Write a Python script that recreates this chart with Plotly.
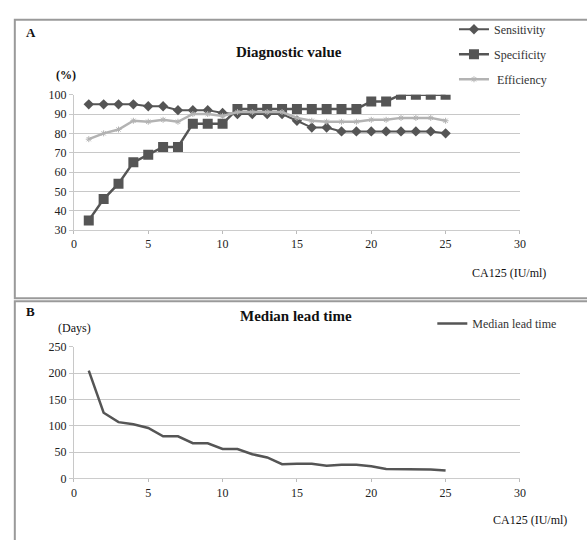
import plotly.graph_objects as go

# ---- data ----
ca125 = list(range(1, 26))
sensitivity = [95, 95, 95, 95, 94, 94, 92, 92, 92, 90.5, 90, 90, 90, 90, 86.5, 83, 83, 81, 81, 81, 81, 81, 81, 81, 80]
specificity = [35, 46, 54, 65, 69, 73, 73, 85, 85, 85, 92.6, 92.6, 92.6, 92.6, 92.6, 92.6, 92.6, 92.6, 92.6, 96.5, 96.5, 100, 100, 100, 100]
efficiency = [77, 80, 82, 86.5, 86, 87, 86, 90, 90, 89, 91, 91, 91, 91, 88, 86.5, 86, 86, 86, 87, 87, 88, 88, 88, 86.5]
lead_time = [205, 125, 107, 103, 96, 80, 80, 67, 67, 56, 56, 46, 40, 27, 28, 28, 24, 26, 26, 23, 18, 18, 18, 17, 15]

x_ticks = [0, 5, 10, 15, 20, 25, 30]
yA_ticks = [30, 40, 50, 60, 70, 80, 90, 100]
yB_ticks = [0, 50, 100, 150, 200, 250]

W, H = 587, 540
FONT = "Liberation Serif"

def px(v):
    return v / W

def py(v):
    return 1 - v / H

fig = go.Figure()

fig.add_trace(go.Scatter(x=ca125, y=sensitivity, name="Sensitivity", mode="lines+markers",
                         line=dict(color="#555555", width=2),
                         marker=dict(symbol="diamond", size=8, color="#555555"),
                         xaxis="x", yaxis="y", legend="legend", legendgroup="a"))
fig.add_trace(go.Scatter(x=ca125, y=specificity, name="Specificity", mode="lines+markers",
                         line=dict(color="#555555", width=2.5),
                         marker=dict(symbol="square", size=10, color="#555555"),
                         xaxis="x", yaxis="y", legend="legend", legendgroup="b"))
fig.add_trace(go.Scatter(x=ca125, y=efficiency, name=" Efficiency", mode="lines+markers",
                         line=dict(color="#b3b3b3", width=2.5),
                         marker=dict(symbol="asterisk-open", size=5, line=dict(color="#b3b3b3", width=1)),
                         xaxis="x", yaxis="y", legend="legend", legendgroup="c"))
fig.add_trace(go.Scatter(x=ca125, y=lead_time, name="Median lead time", mode="lines",
                         line=dict(color="#555555", width=2.5),
                         xaxis="x2", yaxis="y2", legend="legend2"))

axis_font = dict(family=FONT, size=12, color="#222222")
common_x = dict(range=[0, 30], tickvals=x_ticks, showgrid=False, zeroline=False,
                ticks="outside", ticklen=3, tickcolor="#bbbbbb", tickfont=axis_font,
                showline=True, linecolor="#cccccc", linewidth=1)
common_y = dict(showgrid=True, gridcolor="#c8c8c8", gridwidth=1, zeroline=False,
                ticks="outside", ticklen=4, tickcolor="#c8c8c8", tickfont=axis_font,
                showline=True, linecolor="#c8c8c8", linewidth=1)

fig.update_layout(
    width=W, height=H,
    margin=dict(l=0, r=0, t=0, b=0),
    paper_bgcolor="white", plot_bgcolor="white",
    font=dict(family=FONT, color="#222222"),
    xaxis=dict(domain=[px(72), px(525)], anchor="y", **common_x),
    yaxis=dict(domain=[py(229), py(90)], anchor="x", range=[30, 100], tickvals=yA_ticks, **common_y),
    xaxis2=dict(domain=[px(72), px(525)], anchor="y2", **common_x),
    yaxis2=dict(domain=[py(484), py(349)], anchor="x2", range=[0, 250], tickvals=yB_ticks, **common_y),
    legend=dict(x=px(458), y=py(8), xanchor="left", yanchor="top", bgcolor="rgba(0,0,0,0)",
                font=dict(family=FONT, size=12, color="#333333"), tracegroupgap=6, itemwidth=30),
    legend2=dict(x=px(436), y=py(310), xanchor="left", yanchor="top", bgcolor="rgba(0,0,0,0)",
                 font=dict(family=FONT, size=12, color="#333333"), itemwidth=30),
    showlegend=True,
)

# panel borders (right and bottom edges run off the picture, as in the original)
fig.add_shape(type="rect", xref="paper", yref="paper", x0=px(12), x1=px(600), y0=py(299), y1=py(13),
              line=dict(color="#9a9a9a", width=2))
fig.add_shape(type="rect", xref="paper", yref="paper", x0=px(12), x1=px(600), y0=py(560), y1=py(302),
              line=dict(color="#9a9a9a", width=2))

ann = [
    dict(text="<b>A</b>", x=px(21), y=py(26), size=13),
    dict(text="<b>Diagnostic value</b>", x=px(290), y=py(46), size=15, center=True),
    dict(text="<b>(%)</b>", x=px(52), y=py(70), size=12),
    dict(text="CA125 (IU/ml)", x=px(474), y=py(273), size=12),
    dict(text="<b>B</b>", x=px(21), y=py(313), size=13),
    dict(text="<b>Median lead time</b>", x=px(298), y=py(317), size=15, center=True),
    dict(text="(Days)", x=px(54), y=py(330), size=12),
    dict(text="CA125 (IU/ml)", x=px(496), y=py(527), size=12),
]
for a in ann:
    fig.add_annotation(text=a["text"], x=a["x"], y=a["y"], xref="paper", yref="paper",
                       xanchor="center" if a.get("center") else "left", yanchor="middle",
                       showarrow=False, font=dict(family=FONT, size=a["size"], color="#111111"))

fig.write_html("out.html", config={"displayModeBar": False},
               post_script="document.body.style.margin='0';")
